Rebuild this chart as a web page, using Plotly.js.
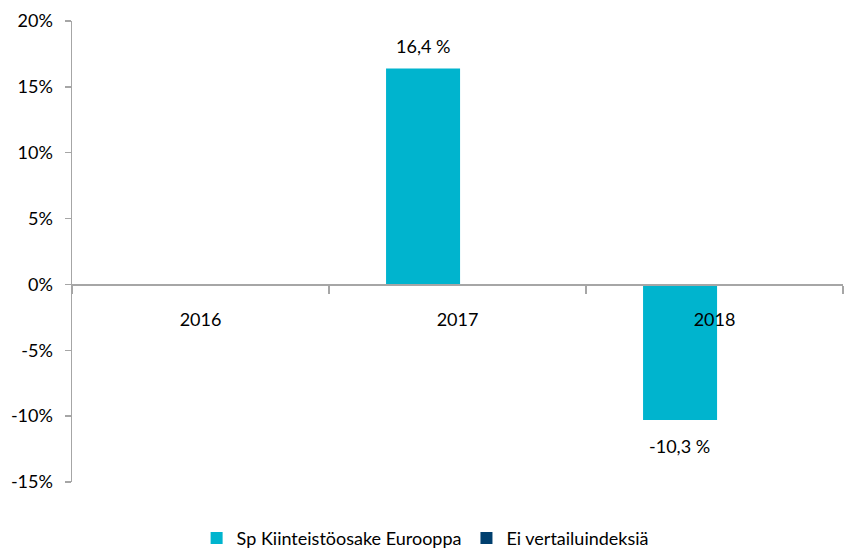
<!DOCTYPE html>
<html><head><meta charset="utf-8">
<script src="https://cdn.plot.ly/plotly-3.0.1.min.js"></script>
<style>html,body{margin:0;padding:0;background:#fff}#chart{width:844px;height:549px}</style>
</head><body><div id="chart"></div>
<script>
const categories = ['2016', '2017', '2018'];
const fundName = 'Sp Kiinteistöosake Eurooppa';
const fundValues = [null, 16.4, -10.3];
const benchName = 'Ei vertailuindeksiä';
const benchValues = [null, null, null];
const yTicks = [-15, -10, -5, 0, 5, 10, 15, 20];

const FONT = 'Lato, "Open Sans", sans-serif';
const fmt = v => v.toFixed(1).replace('.', ',') + ' %';

const traces = [
  {type: 'bar', name: fundName, x: categories, y: fundValues,
   marker: {color: '#00B4CE'}, width: 0.288, offset: -0.278, hoverinfo: 'skip'},
  {type: 'bar', name: benchName, x: categories, y: benchValues,
   marker: {color: '#003F6E'}, width: 0.288, offset: 0.01, hoverinfo: 'skip'}
];

const annotations = [];
categories.forEach((c, i) => {
  const v = fundValues[i];
  if (v === null) return;
  annotations.push({x: i, y: v, xref: 'x', yref: 'y', text: fmt(v), showarrow: false,
    xshift: -35, yshift: v >= 0 ? 22 : -26, font: {family: FONT, size: 18, color: '#000'}});
});

const layout = {
  width: 844, height: 549,
  margin: {l: 72, r: 1, t: 21, b: 67, autoexpand: false},
  paper_bgcolor: '#fff', plot_bgcolor: '#fff',
  barmode: 'overlay',
  showlegend: true,
  legend: {orientation: 'h', x: 0.458, xanchor: 'center', y: -0.122, yanchor: 'middle',
    font: {family: FONT, size: 18, color: '#000'}, itemwidth: 30, traceorder: 'normal'},
  xaxis: {type: 'category', anchor: 'free', position: 15/35, showline: true,
    linecolor: '#A6A6A6', linewidth: 1.5, ticks: 'outside', tickson: 'boundaries',
    ticklen: 8, tickcolor: '#A6A6A6', tickwidth: 1.5, ticklabelstandoff: 18,
    showgrid: false, zeroline: false, range: [-0.5, 2.5], fixedrange: true,
    tickfont: {family: FONT, size: 18, color: '#000'}},
  yaxis: {range: [-15, 20], tickvals: yTicks, ticktext: yTicks.map(v => v + '%'),
    showline: true, linecolor: '#A6A6A6', linewidth: 1.5, ticks: 'outside', ticklen: 6,
    tickcolor: '#A6A6A6', tickwidth: 1.5, showgrid: false, zeroline: false,
    tickfont: {family: FONT, size: 18, color: '#000'}, ticklabelstandoff: 8},
  annotations: annotations
};

Plotly.newPlot('chart', traces, layout, {displayModeBar: false, staticPlot: true});
</script></body></html>
